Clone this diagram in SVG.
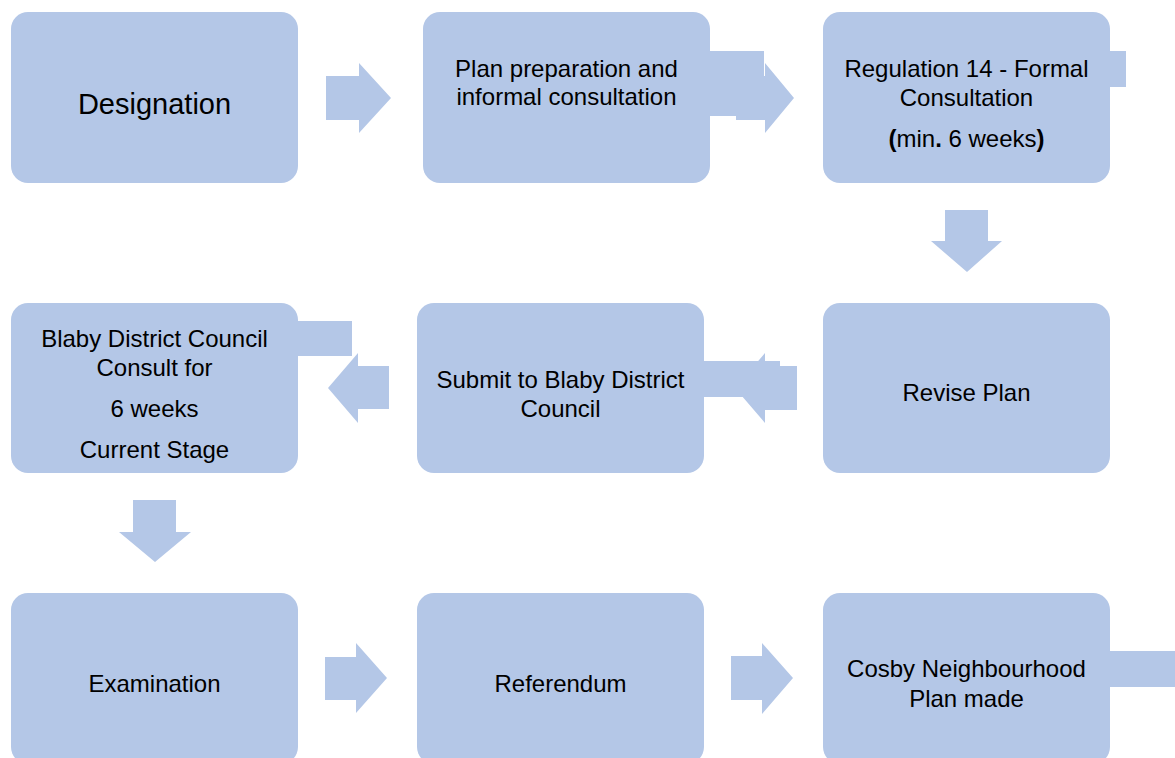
<svg xmlns="http://www.w3.org/2000/svg" width="1175" height="758" viewBox="0 0 1175 758">
<style>
  .box { fill: #B4C7E7; }
  .arrow { fill: #B4C7E7; }
  text { font-family: "Liberation Sans", Arial, sans-serif; font-size: 24px; fill: #000; text-anchor: middle; }
  .big { font-size: 29px; }
  .b { font-weight: bold; }
</style>
<rect width="1175" height="758" fill="#FFFFFF"/>
<g id="connectors">
  <polygon class="arrow" points="326,76 359,76 359,63 391,98 359,133 359,120 326,120"/>
  <polygon class="arrow" points="736,76 765,76 765,63 794,98 765,133 765,120 736,120"/>
  <polygon class="arrow" points="945,210 988,210 988,241 1002,241 967,272 931,241 945,241"/>
  <polygon class="arrow" points="797,366 765,366 765,353 735,388 765,423 765,410 797,410"/>
  <polygon class="arrow" points="389,366 358,366 358,353 328,388 358,423 358,409 389,409"/>
  <polygon class="arrow" points="133,500 176,500 176,532 191,532 155,562 119,532 133,532"/>
  <polygon class="arrow" points="325,657 356,657 356,643 387,678 356,713 356,700 325,700"/>
  <polygon class="arrow" points="731,656 762,656 762,643 793,678 762,714 762,700 731,700"/>
</g>
<g id="designation">
  <rect class="box" x="11" y="12" width="287" height="171" rx="17"/>
  <text class="big" x="154.5" y="114">Designation</text>
</g>
<g id="plan-preparation">
  <rect class="box" x="423" y="12" width="287" height="171" rx="17"/>
  <rect class="box" x="708" y="51" width="56" height="65"/>
  <text x="566.5" y="77">Plan preparation and</text>
  <text x="566.5" y="105">informal consultation</text>
</g>
<g id="regulation-14">
  <rect class="box" x="823" y="12" width="287" height="171" rx="17"/>
  <rect class="box" x="1108" y="51" width="18" height="36"/>
  <text x="966.5" y="77">Regulation 14 - Formal</text>
  <text x="966.5" y="106">Consultation</text>
  <text x="966.5" y="147"><tspan class="b">(</tspan>min<tspan class="b">.</tspan> 6 weeks<tspan class="b">)</tspan></text>
</g>
<g id="blaby-consult">
  <rect class="box" x="11" y="303" width="287" height="170" rx="17"/>
  <rect class="box" x="296" y="321" width="56" height="35"/>
  <text x="154.5" y="347">Blaby District Council</text>
  <text x="154.5" y="376">Consult for</text>
  <text x="154.5" y="417">6 weeks</text>
  <text x="154.5" y="458">Current Stage</text>
</g>
<g id="submit">
  <rect class="box" x="417" y="303" width="287" height="170" rx="17"/>
  <rect class="box" x="702" y="361" width="78" height="36"/>
  <text x="560.5" y="388">Submit to Blaby District</text>
  <text x="560.5" y="417">Council</text>
</g>
<g id="revise-plan">
  <rect class="box" x="823" y="303" width="287" height="170" rx="17"/>
  <text x="966.5" y="401">Revise Plan</text>
</g>
<g id="examination">
  <rect class="box" x="11" y="593" width="287" height="171" rx="17"/>
  <text x="154.5" y="692">Examination</text>
</g>
<g id="referendum">
  <rect class="box" x="417" y="593" width="287" height="171" rx="17"/>
  <text x="560.5" y="692">Referendum</text>
</g>
<g id="cosby-plan-made">
  <rect class="box" x="823" y="593" width="287" height="171" rx="17"/>
  <rect class="box" x="1108" y="651" width="67" height="36"/>
  <text x="966.5" y="677">Cosby Neighbourhood</text>
  <text x="966.5" y="707">Plan made</text>
</g>
</svg>
